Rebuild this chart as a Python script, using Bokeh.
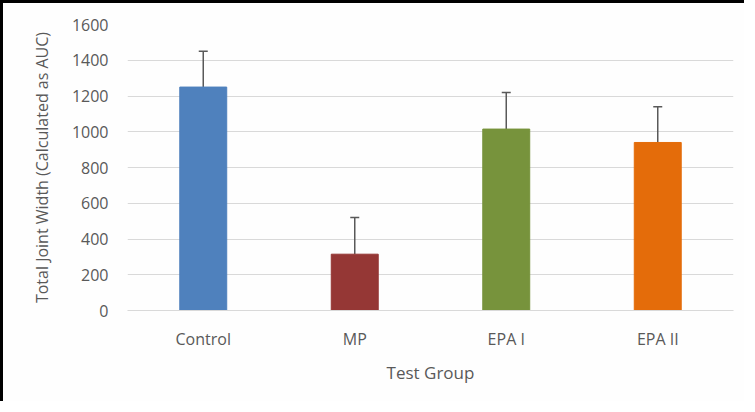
from bokeh.plotting import figure
from bokeh.models import ColumnDataSource, Whisker, FixedTicker
from bokeh.embed import file_html
from bokeh.resources import INLINE

groups = ["Control", "MP", "EPA I", "EPA II"]
values = [1250, 315, 1015, 940]
errors = [200, 205, 205, 200]
colors = ["#4F81BD", "#953735", "#77933C", "#E46C0A"]
y_ticks = [0, 200, 400, 600, 800, 1000, 1200, 1400, 1600]

src = ColumnDataSource(dict(
    g=groups, v=values, c=colors,
    up=[v + e for v, e in zip(values, errors)],
))

p = figure(x_range=groups, y_range=(0, 1600), width=744, height=401,
           output_backend="svg", toolbar_location=None,
           min_border_left=124, min_border_right=14,
           min_border_top=21, min_border_bottom=94)
p.styles = {"border-top": "3px solid black", "border-left": "3px solid black"}

p.vbar(x="g", top="v", width=0.31, color="c", source=src)
w = Whisker(base="g", lower="v", upper="up", source=src,
            line_color="#595959", line_width=1.5, lower_head=None)
w.upper_head.size = 9
w.upper_head.line_color = "#595959"
w.upper_head.line_width = 1.5
p.add_layout(w)

font = "Open Sans"
txt = "#595959"
p.background_fill_color = "#fefefe"
p.border_fill_color = "#fefefe"
p.outline_line_color = None

p.yaxis.ticker = FixedTicker(ticks=y_ticks)
p.ygrid.grid_line_color = "#d9d9d9"
p.ygrid.grid_line_width = 1.2
p.xgrid.grid_line_color = None

p.yaxis.axis_line_color = None
p.yaxis.major_tick_line_color = None
p.yaxis.minor_tick_line_color = None
p.yaxis.major_label_standoff = 13
p.yaxis.major_label_text_font = font
p.yaxis.major_label_text_font_size = "16px"
p.yaxis.major_label_text_color = txt
p.yaxis.axis_label = "Total Joint Width (Calculated as AUC)"
p.yaxis.axis_label_text_font = font
p.yaxis.axis_label_text_font_size = "16px"
p.yaxis.axis_label_text_font_style = "normal"
p.yaxis.axis_label_text_color = txt
p.yaxis.axis_label_standoff = 16

p.xaxis.axis_line_color = "#d9d9d9"
p.xaxis.major_tick_line_color = None
p.xaxis.minor_tick_line_color = None
p.xaxis.major_label_standoff = 11
p.xaxis.major_label_text_font = font
p.xaxis.major_label_text_font_size = "16px"
p.xaxis.major_label_text_color = txt
p.xaxis.axis_label = "Test Group"
p.xaxis.axis_label_text_font = font
p.xaxis.axis_label_text_font_size = "17px"
p.xaxis.axis_label_text_font_style = "normal"
p.xaxis.axis_label_text_color = txt
p.xaxis.axis_label_standoff = 8

open("out.html", "w").write(file_html(p, INLINE))
